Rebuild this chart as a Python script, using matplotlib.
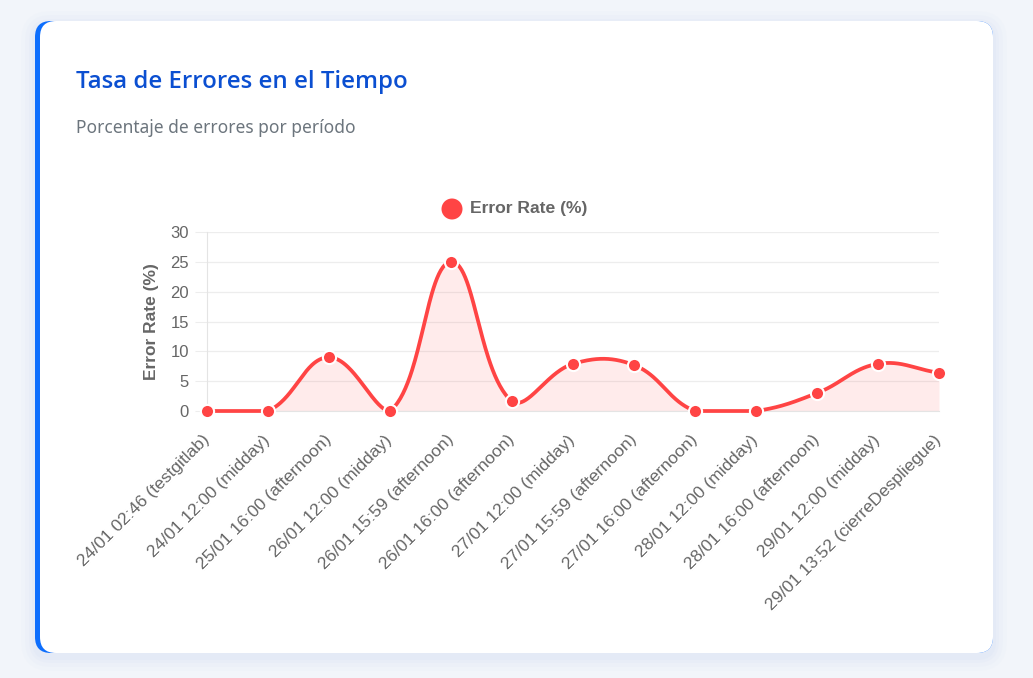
import numpy as np
import matplotlib
matplotlib.use('Agg')
import matplotlib.pyplot as plt
from matplotlib.patches import FancyBboxPatch, Circle

# ---------------- data ----------------
labels = [
    "24/01 02:46 (testgitlab)",
    "24/01 12:00 (midday)",
    "25/01 16:00 (afternoon)",
    "26/01 12:00 (midday)",
    "26/01 15:59 (afternoon)",
    "26/01 16:00 (afternoon)",
    "27/01 12:00 (midday)",
    "27/01 15:59 (afternoon)",
    "27/01 16:00 (afternoon)",
    "28/01 12:00 (midday)",
    "28/01 16:00 (afternoon)",
    "29/01 12:00 (midday)",
    "29/01 13:52 (cierreDespliegue)",
]
error_rate = [0, 0, 9.0, 0, 25.0, 1.6, 7.9, 7.7, 0, 0, 3.0, 7.9, 6.4]
y_ticks = [0, 5, 10, 15, 20, 25, 30]
series_name = "Error Rate (%)"
title = "Tasa de Errores en el Tiempo"
subtitle = "Porcentaje de errores por período"

W, H = 1033, 678
RED = '#ff4444'
GREY = '#666666'
CHART_FONT = ['Liberation Sans', 'DejaVu Sans']

fig = plt.figure(figsize=(W / 100, H / 100), dpi=100)
fig.patch.set_facecolor('#f2f5fa')

# ---------------- background card (pixel coordinates) ----------------
bg = fig.add_axes([0, 0, 1, 1], zorder=0)
bg.set_xlim(0, W)
bg.set_ylim(H, 0)
bg.axis('off')

cx0, cy0, cx1, cy1 = 35, 21, 993, 653
for s, a in [(14, 0.05), (10, 0.07), (6, 0.09), (3, 0.12)]:
    bg.add_patch(FancyBboxPatch((cx0 - s, cy0 - s + 4), (cx1 - cx0) + 2 * s, (cy1 - cy0) + 2 * s,
                                boxstyle=f"round,pad=0,rounding_size={16 + s}",
                                fc='#c9d6f0', ec='none', alpha=a))
bg.add_patch(FancyBboxPatch((cx0, cy0), cx1 - cx0, cy1 - cy0,
                            boxstyle="round,pad=0,rounding_size=16", fc='#0d6efd', ec='none'))
bg.add_patch(FancyBboxPatch((cx0 + 5, cy0), cx1 - cx0 - 5, cy1 - cy0,
                            boxstyle="round,pad=0,rounding_size=16", fc='white', ec='none'))

bg.text(76, 88, title, fontsize=17.3, color='#0b4fd1', fontweight='semibold',
        family=['Open Sans', 'Lato', 'DejaVu Sans'], va='baseline', ha='left')
bg.text(76, 133, subtitle, fontsize=12.5, color='#6c757d',
        family=['Noto Sans', 'DejaVu Sans'], va='baseline', ha='left')

# legend
bg.add_patch(Circle((452, 209), 10.5, fc=RED, ec='none'))
bg.text(470, 209, series_name, fontsize=12.6, fontweight='bold', color=GREY,
        family=CHART_FONT, va='center', ha='left')

# ---------------- chart ----------------
L, T, R, B = 207, 232, 939, 411
ax = fig.add_axes([L / W, 1 - B / H, (R - L) / W, (B - T) / H], zorder=2)
ax.set_facecolor('none')
x = np.arange(len(error_rate))
ax.set_xlim(0, len(error_rate) - 1)
ax.set_ylim(y_ticks[0], y_ticks[-1])

# Chart.js style spline (tension 0.4) computed in pixel space
pts = ax.transData.transform(np.column_stack([x, error_rate]))
bb = ax.bbox
n = len(pts)
prev_cp = np.zeros_like(pts)
next_cp = np.zeros_like(pts)
t = 0.4
for i in range(n):
    p = pts[i]
    pp = pts[i - 1] if i > 0 else p
    pn = pts[i + 1] if i < n - 1 else p
    d01 = np.hypot(*(p - pp))
    d12 = np.hypot(*(pn - p))
    tot = d01 + d12
    s01 = d01 / tot if tot else 0
    s12 = d12 / tot if tot else 0
    prev_cp[i] = p - t * s01 * (pn - pp)
    next_cp[i] = p + t * s12 * (pn - pp)
for cp in (prev_cp, next_cp):
    cp[:, 0] = np.clip(cp[:, 0], bb.x0, bb.x1)
    cp[:, 1] = np.clip(cp[:, 1], bb.y0, bb.y1)

curve = []
tt = np.linspace(0, 1, 60)[:, None]
for i in range(n - 1):
    P0, P1, P2, P3 = pts[i], next_cp[i], prev_cp[i + 1], pts[i + 1]
    seg = ((1 - tt) ** 3) * P0 + 3 * ((1 - tt) ** 2) * tt * P1 + 3 * (1 - tt) * tt ** 2 * P2 + tt ** 3 * P3
    curve.append(seg if i == 0 else seg[1:])
curve = ax.transData.inverted().transform(np.vstack(curve))
cx, cy = curve[:, 0], curve[:, 1]

ax.fill_between(cx, cy, 0, color=RED, alpha=0.1, lw=0, zorder=2)
ax.plot(cx, cy, color=RED, lw=2.7, solid_capstyle='round', zorder=3, clip_on=False)
ax.plot(x, error_rate, 'o', ms=9.5, mfc=RED, mec='white', mew=1.5, zorder=4, clip_on=False)

# axes styling
for s in ['top', 'right']:
    ax.spines[s].set_visible(False)
ax.spines['left'].set_color('#e4e4e4')
ax.spines['bottom'].set_color('#e4e4e4')
ax.grid(axis='y', color='#ededed', lw=0.9, zorder=0)
ax.set_axisbelow(True)
ax.set_yticks(y_ticks)
ax.set_yticklabels([str(v) for v in y_ticks], family=CHART_FONT)
ax.tick_params(axis='y', length=9, color='#ededed', labelcolor=GREY, labelsize=12, pad=4)
ax.set_xticks(x)
ax.set_xticklabels(labels, rotation=45, ha='right', va='center', rotation_mode='anchor',
                   family=CHART_FONT)
ax.tick_params(axis='x', length=0, labelcolor=GREY, labelsize=12.6, pad=19)
ax.set_ylabel(series_name, fontsize=12.5, fontweight='bold', color=GREY, family=CHART_FONT)
ax.yaxis.set_label_coords((159 - L) / (R - L), 0.5)

fig.savefig('out.png', dpi=100, facecolor=fig.get_facecolor())
